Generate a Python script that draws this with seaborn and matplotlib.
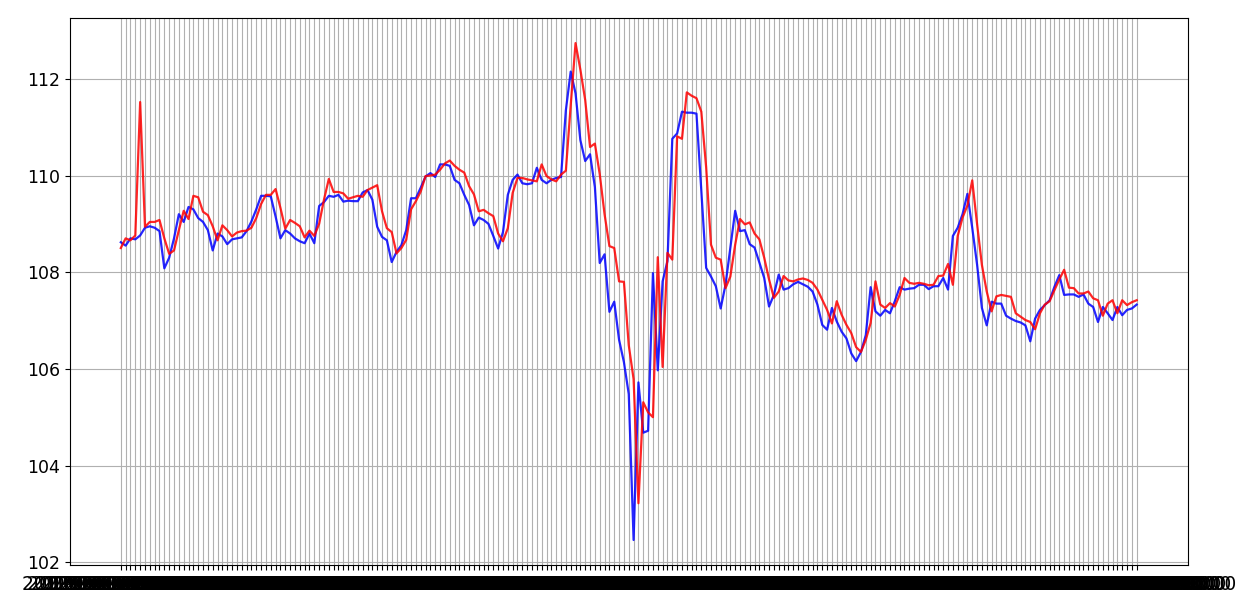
import pandas as pd
import seaborn as sns
import matplotlib.pyplot as plt

# trading days on the x axis (one tick per day)
dates = pd.bdate_range('2019-01-02', periods=211).strftime('%Y-%m-%d %H:%M:%S').tolist()

# actual values (blue)
actual = [
    108.62, 108.55, 108.70, 108.68, 108.76, 108.92, 108.95, 108.92, 108.85, 108.08,
    108.30, 108.70, 109.20, 109.04, 109.35, 109.30, 109.12, 109.04, 108.87, 108.45,
    108.80, 108.74, 108.58, 108.68, 108.70, 108.72, 108.85, 109.05, 109.30, 109.58,
    109.58, 109.57, 109.15, 108.70, 108.87, 108.80, 108.70, 108.64, 108.60, 108.80,
    108.60, 109.37, 109.45, 109.58, 109.56, 109.60, 109.46, 109.48, 109.47, 109.47,
    109.65, 109.70, 109.50, 108.94, 108.73, 108.66, 108.21, 108.42, 108.56, 108.87,
    109.53, 109.53, 109.75, 109.98, 110.05, 109.97, 110.23, 110.23, 110.20, 109.91,
    109.84, 109.60, 109.39, 108.97, 109.13, 109.08, 109.00, 108.75, 108.49, 108.83,
    109.60, 109.91, 110.02, 109.84, 109.82, 109.84, 110.16, 109.91, 109.84, 109.91,
    109.95, 109.97, 111.35, 112.15, 111.70, 110.73, 110.30, 110.44, 109.76, 108.19,
    108.37, 107.18, 107.39, 106.60, 106.14, 105.48, 102.46, 105.72, 104.68, 104.72,
    107.98, 105.97, 107.81, 108.23, 110.76, 110.87, 111.32, 111.30, 111.30, 111.28,
    109.69, 108.09, 107.91, 107.71, 107.25, 107.74, 108.50, 109.27, 108.85, 108.87,
    108.58, 108.51, 108.20, 107.88, 107.29, 107.53, 107.95, 107.64, 107.67, 107.75,
    107.80, 107.75, 107.70, 107.60, 107.33, 106.91, 106.81, 107.26, 106.98, 106.77,
    106.63, 106.32, 106.16, 106.35, 106.70, 107.69, 107.19, 107.10, 107.22, 107.15,
    107.40, 107.69, 107.64, 107.66, 107.67, 107.74, 107.74, 107.65, 107.71, 107.71,
    107.88, 107.64, 108.75, 108.92, 109.20, 109.62, 108.92, 108.16, 107.26, 106.90,
    107.39, 107.35, 107.35, 107.10, 107.04, 106.99, 106.96, 106.90, 106.57, 107.04,
    107.22, 107.32, 107.42, 107.70, 107.94, 107.53, 107.54, 107.54, 107.49, 107.54,
    107.35, 107.28, 106.97, 107.28, 107.15, 107.01, 107.28, 107.11, 107.22, 107.25,
    107.33,
]

# predicted values (red)
predicted = [
    108.50, 108.70, 108.66, 108.76, 111.52, 108.94, 109.04, 109.04, 109.08, 108.70,
    108.38, 108.45, 108.87, 109.27, 109.10, 109.58, 109.55, 109.25, 109.18, 108.95,
    108.66, 108.97, 108.87, 108.74, 108.82, 108.85, 108.86, 108.92, 109.12, 109.41,
    109.60, 109.60, 109.72, 109.33, 108.90, 109.08, 109.02, 108.95, 108.72, 108.86,
    108.75, 109.00, 109.50, 109.93, 109.66, 109.66, 109.63, 109.52, 109.55, 109.58,
    109.56, 109.70, 109.75, 109.80, 109.26, 108.91, 108.83, 108.39, 108.50, 108.67,
    109.30, 109.47, 109.67, 109.99, 110.00, 110.02, 110.12, 110.25, 110.31, 110.20,
    110.12, 110.06, 109.78, 109.61, 109.26, 109.29, 109.22, 109.16, 108.80, 108.64,
    108.91, 109.64, 109.95, 109.95, 109.92, 109.90, 109.88, 110.23, 109.99, 109.92,
    109.88, 110.02, 110.10, 111.45, 112.74, 112.19, 111.56, 110.59, 110.66, 110.03,
    109.20, 108.54, 108.50, 107.81, 107.80, 106.49, 105.79, 103.22, 105.31, 105.10,
    105.00, 108.31, 106.04, 108.40, 108.26, 110.81, 110.76, 111.72, 111.65, 111.60,
    111.32, 110.17, 108.57, 108.30, 108.26, 107.67, 107.91, 108.57, 109.10, 108.99,
    109.03, 108.80, 108.68, 108.30, 107.85, 107.47, 107.60, 107.92, 107.83, 107.81,
    107.85, 107.87, 107.84, 107.78, 107.64, 107.43, 107.22, 106.94, 107.40, 107.12,
    106.91, 106.74, 106.45, 106.35, 106.60, 106.95, 107.81, 107.33, 107.26, 107.36,
    107.29, 107.53, 107.88, 107.78, 107.76, 107.78, 107.76, 107.73, 107.74, 107.92,
    107.93, 108.17, 107.74, 108.75, 109.13, 109.38, 109.90, 109.00, 108.15, 107.60,
    107.19, 107.50, 107.53, 107.51, 107.49, 107.15, 107.08, 107.01, 106.97, 106.82,
    107.15, 107.33, 107.40, 107.63, 107.85, 108.05, 107.68, 107.67, 107.56, 107.56,
    107.60, 107.46, 107.42, 107.10, 107.35, 107.42, 107.15, 107.42, 107.32, 107.38,
    107.42,
]

df = pd.DataFrame({'date': dates, 'actual': actual, 'predicted': predicted})

plt.rcParams['font.size'] = 12.5

fig, ax = plt.subplots(figsize=(12.5, 6.08), dpi=100)
fig.subplots_adjust(left=0.056, right=0.95, top=0.97, bottom=0.071)

sns.lineplot(data=df, x='date', y='actual', color='blue', alpha=0.85, lw=1.6, sort=False, ax=ax)
sns.lineplot(data=df, x='date', y='predicted', color='red', alpha=0.85, lw=1.6, sort=False, ax=ax)

ax.set_xlabel('')
ax.set_ylabel('')
ax.set_yticks([102, 104, 106, 108, 110, 112])
ax.tick_params(axis='x', labelsize=13.5)
ax.grid(True)

plt.savefig('out.png')
